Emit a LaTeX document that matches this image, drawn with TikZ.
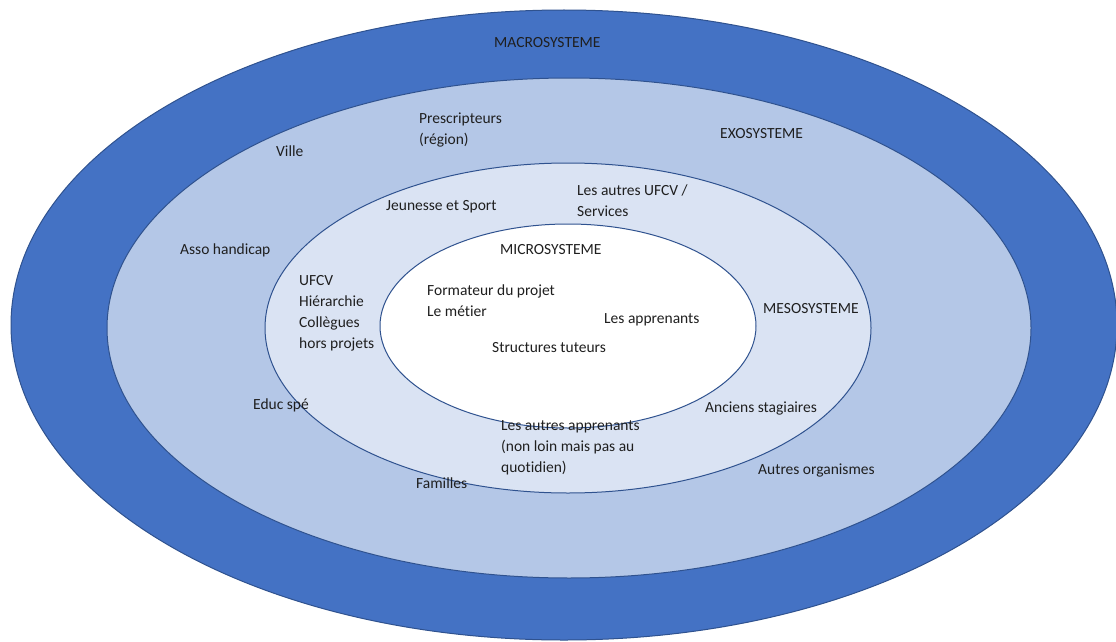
\documentclass[tikz,border=0pt]{standalone}
\usepackage{fontspec}
\setmainfont{Carlito}[Ligatures=NoCommon]
\definecolor{macroblue}{HTML}{4472C4}
\definecolor{exoblue}{HTML}{B4C7E7}
\definecolor{mesoblue}{HTML}{DAE3F3}
\definecolor{rimblue}{HTML}{2F528F}
\definecolor{labeltext}{HTML}{1F1F1F}

\tikzset{
  zone/.style={draw=rimblue, line width=1pt},
  lbl/.style={anchor=west, inner sep=0pt, align=left, text=labeltext,
    font=\fontsize{15.5}{21}\selectfont},
}

\begin{document}
\begin{tikzpicture}[x=1pt, y=-1pt]
        \useasboundingbox (0,0) rectangle (1116,642);
        % les quatre systemes
        \fill[white] (0,0) rectangle (1116,642);
        \draw[zone, fill=macroblue] (564,325) ellipse [x radius=553, y radius=315];
        \draw[zone, fill=exoblue] (569,328) ellipse [x radius=462, y radius=250];
        \draw[zone, fill=mesoblue] (568,328) ellipse [x radius=303, y radius=165];
        \draw[zone, fill=white] (568,326) ellipse [x radius=188, y radius=102];

        \node[lbl] (macro) at (494,43) {MACROSYSTEME};
        \node[lbl] (exo) at (720,134) {EXOSYSTEME};
        \node[lbl] (meso) at (763,309) {MESOSYSTEME};
        \node[lbl] (micro) at (500,250) {MICROSYSTEME};

        % exosysteme
        \node[lbl] (prescr) at (419,130) {Prescripteurs\\(région)};
        \node[lbl] (ville) at (276,151) {Ville};
        \node[lbl] (asso) at (180,250) {Asso handicap};
        \node[lbl] (educ) at (253,405) {Educ spé};
        \node[lbl] (familles) at (416,483) {Familles};
        \node[lbl] (organismes) at (758,470) {Autres organismes};

        % mesosysteme
        \node[lbl] (js) at (386,207) {Jeunesse et Sport};
        \node[lbl] (autresufcv) at (577,201) {Les autres UFCV /\\Services};
        \node[lbl] (ufcv) at (299,313) {UFCV\\Hiérarchie\\Collègues\\hors projets};
        \node[lbl] (anciens) at (705,408) {Anciens stagiaires};
        \node[lbl] (autresapp) at (501,448) {Les autres apprenants\\(non loin mais pas au\\quotidien)};

        % microsysteme
        \node[lbl] (formateur) at (427,301) {Formateur du projet\\Le métier};
        \node[lbl] (apprenants) at (604,320) {Les apprenants};
        \node[lbl] (tuteurs) at (492,348) {Structures tuteurs};
      \end{tikzpicture}
\end{document}
